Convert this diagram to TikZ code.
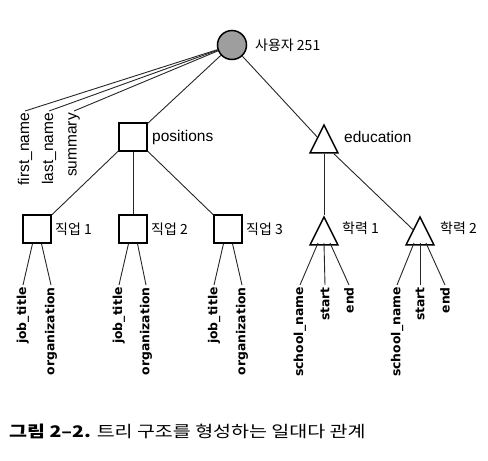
\documentclass[tikz,border=0pt]{standalone}
\usepackage{fontspec}
\setmainfont{Liberation Sans}
\newfontfamily\krfont{Noto Sans CJK KR}
\newfontfamily\fieldfont{DejaVu Sans}
\usetikzlibrary{shapes.geometric,calc}
\begin{document}
\begin{tikzpicture}[x=1pt,y=-1pt,
 box/.style={draw, line width=1.5pt, minimum size=28pt, inner sep=0pt},
 tri/.style={draw, line width=1.5pt, isosceles triangle, shape border rotate=90, isosceles triangle stretches, minimum width=28pt, minimum height=28pt, inner sep=0pt},
 rootnode/.style={draw, circle, fill=black!38, line width=1.5pt, minimum size=29pt, inner sep=0pt},
 edge/.style={line width=0.9pt, draw=black!85},
 lab/.style={anchor=west, inner sep=0pt, font=\fontsize{15.5}{16}\selectfont},
 klab/.style={anchor=west, inner sep=0pt, font=\krfont\fontsize{14}{15}\selectfont},
 topfield/.style={rotate=90, anchor=east, inner sep=2pt, font=\fontsize{15.5}{16}\selectfont},
 field/.style={rotate=90, anchor=east, inner sep=2pt, font=\fieldfont\bfseries\fontsize{12.4}{13}\selectfont},
]
\useasboundingbox (0,0) rectangle (488,461);

% main nodes
\node[rootnode] (root) at (232,45) {};
\node[klab] (rootlab) at (255,45) {사용자 251};
\node[box] (pos) at (133,137) {};
\node[lab] (poslab) at (152,137) {positions};
\node[tri, anchor=apex] (edu) at (324,123) {};
\node[lab] (edulab) at (344,137) {education};

\node[box] (j1) at (37,229) {};
\node[klab] (j1lab) at (55,229) {직업 1};
\node[box] (j2) at (133,229) {};
\node[klab] (j2lab) at (151,229) {직업 2};
\node[box] (j3) at (228,229) {};
\node[klab] (j3lab) at (246,229) {직업 3};
\node[tri, anchor=apex] (h1) at (324,215) {};
\node[klab] (h1lab) at (342,228) {학력 1};
\node[tri, anchor=apex] (h2) at (420,215) {};
\node[klab] (h2lab) at (440,228) {학력 2};

% root fields
\node[topfield] (fn) at (25,111) {first\_name};
\node[topfield] (ln) at (49,111) {last\_name};
\node[topfield] (sm) at (74,111) {summary};

% job fields
\node[field] (jt1) at (23,285) {job\_title};
\node[field] (or1) at (51,285) {organization};
\node[field] (jt2) at (119,285) {job\_title};
\node[field] (or2) at (146,285) {organization};
\node[field] (jt3) at (214,285) {job\_title};
\node[field] (or3) at (242,285) {organization};

% education fields
\node[field] (sn1) at (300,285) {school\_name};
\node[field] (st1) at (325,285) {start};
\node[field] (en1) at (349,285) {end};
\node[field] (sn2) at (397,285) {school\_name};
\node[field] (st2) at (420,285) {start};
\node[field] (en2) at (445,285) {end};

% connectors
\draw[edge] (root) -- (fn.east);
\draw[edge] (root) -- (ln.east);
\draw[edge] (root) -- (sm.east);
\draw[edge] (root) -- (pos);
\draw[edge] (root) -- (edu);
\draw[edge] (pos) -- (j1);
\draw[edge] (pos) -- (j2);
\draw[edge] (pos) -- (j3);
\draw[edge] (edu) -- (h1);
\draw[edge] (edu) -- (h2);

\draw[edge] (j1.-107) -- (jt1.east);
\draw[edge] (j1.-73) -- (or1.east);
\draw[edge] (j2.-107) -- (jt2.east);
\draw[edge] (j2.-73) -- (or2.east);
\draw[edge] (j3.-107) -- (jt3.east);
\draw[edge] (j3.-73) -- (or3.east);

\draw[edge] ($(h1.apex)+(-6,28)$) -- (sn1.east);
\draw[edge] ($(h1.apex)+(0,28)$) -- (st1.east);
\draw[edge] ($(h1.apex)+(6,28)$) -- (en1.east);
\draw[edge] ($(h2.apex)+(-6,28)$) -- (sn2.east);
\draw[edge] ($(h2.apex)+(0,28)$) -- (st2.east);
\draw[edge] ($(h2.apex)+(6,28)$) -- (en2.east);

% caption
\node[anchor=west, inner sep=0pt, font=\krfont\fontsize{16}{18}\selectfont] (cap) at (9,431) {\scalebox{1.22}[1]{{\bfseries 그림 2–2.} 트리 구조를 형성하는 일대다 관계}};
\end{tikzpicture}
\end{document}
